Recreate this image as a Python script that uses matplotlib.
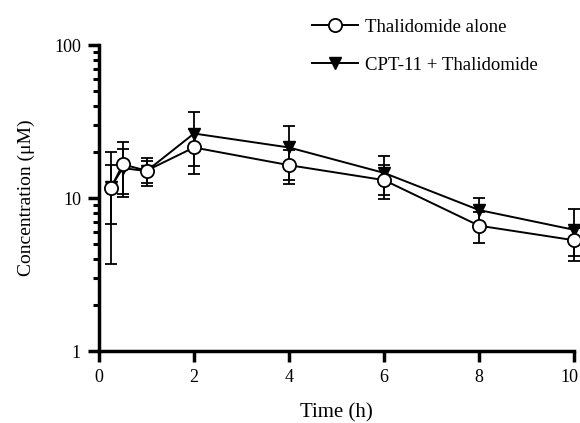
import numpy as np
import matplotlib.pyplot as plt
from matplotlib.lines import Line2D
from matplotlib.ticker import LogLocator, FixedLocator, NullFormatter
from matplotlib.transforms import ScaledTranslation
import matplotlib as mpl
mpl.rc('font', family='Liberation Serif')

# sampling times (h)
time = [0.25, 0.5, 1, 2, 4, 6, 8, 10]

# thalidomide alone: mean and SD (uM)
thal_mean = [11.6, 16.6, 15.1, 21.4, 16.4, 13.1, 6.6, 5.3]
thal_sd = [4.8, 6.5, 3.1, 7.0, 4.1, 3.3, 1.55, 1.1]

# CPT-11 + thalidomide: mean and SD (uM)
combo_mean = [11.8, 15.7, 15.0, 26.4, 21.4, 14.6, 8.35, 6.2]
combo_sd = [8.1, 5.1, 2.5, 10.1, 8.3, 4.2, 1.6, 2.3]

fig = plt.figure(figsize=(5.8, 4.23), dpi=100)
ax = fig.add_axes([0.1707, 0.170, 0.8190, 0.7236])

ax.errorbar(time, combo_mean, yerr=combo_sd, color='black', lw=1.4,
            marker='v', ms=9, mfc='black', mec='black',
            capsize=4.5, elinewidth=1.3, capthick=1.3,
            clip_on=False, zorder=3)
ax.errorbar(time, thal_mean, yerr=thal_sd, color='black', lw=1.4,
            marker='o', ms=9.5, mfc='white', mec='black', mew=1.3,
            capsize=4.5, elinewidth=1.3, capthick=1.3,
            clip_on=False, zorder=4)

ax.set_yscale('log')
ax.set_ylim(1, 100)
ax.set_xlim(0, 10)
ax.xaxis.set_major_locator(FixedLocator([0, 2, 4, 6, 8, 10]))
ax.yaxis.set_major_locator(FixedLocator([1, 10, 100]))
ax.set_yticklabels(['1', '10', '100'])
ax.yaxis.set_minor_locator(LogLocator(base=10, subs=np.arange(2, 10)))
ax.yaxis.set_minor_formatter(NullFormatter())

for s in ['top', 'right']:
    ax.spines[s].set_visible(False)
for s in ['left', 'bottom']:
    ax.spines[s].set_linewidth(2.5)

ax.tick_params(axis='both', which='major', direction='out', length=8,
               width=2.5, labelsize=13, pad=5)
ax.tick_params(axis='y', which='minor', direction='out', length=4.5, width=2.2)

# last x label sits against the right edge, as in the original
fig.canvas.draw()
last = ax.get_xticklabels()[-1]
last.set_horizontalalignment('right')
last.set_transform(last.get_transform() + ScaledTranslation(4 / 100, 0, fig.dpi_scale_trans))

ax.set_xlabel('Time (h)', fontsize=15, labelpad=12)
ax.set_ylabel('Concentration (\u03bcM)', fontsize=14, labelpad=14)

handles = [
    Line2D([], [], color='black', lw=1.4, marker='o', ms=9.5, mfc='white',
           mec='black', mew=1.3),
    Line2D([], [], color='black', lw=1.4, marker='v', ms=9, mfc='black',
           mec='black'),
]
labels = ['Thalidomide alone', 'CPT-11 + Thalidomide']
ax.legend(handles, labels, loc='upper left', bbox_to_anchor=(0.509, 0.996),
          bbox_transform=fig.transFigure, frameon=False, fontsize=13.5,
          handlelength=2.45, labelspacing=1.12, handletextpad=0.37)

fig.savefig('out.png', dpi=100)
